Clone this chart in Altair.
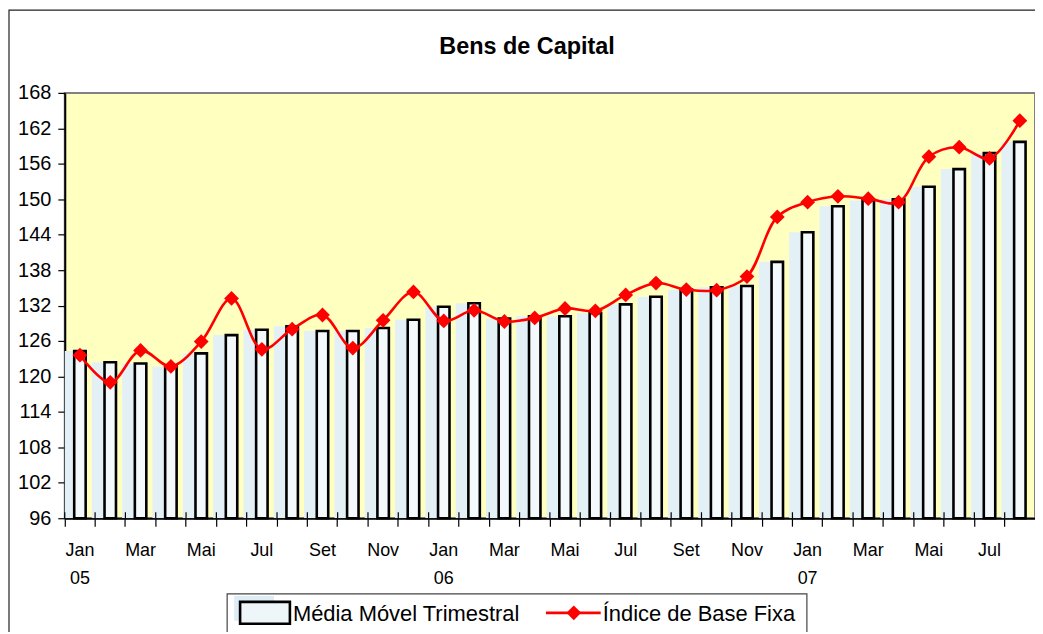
import altair as alt
import pandas as pd

month_names = ["Jan", "Fev", "Mar", "Abr", "Mai", "Jun", "Jul", "Ago", "Set", "Out", "Nov", "Dez"]
years = ["05", "06", "07"]
cats = [f"{m} {y}" for y in years for m in month_names][:32]
month_labels = [(m if i % 2 == 0 else "") for y in years for i, m in enumerate(month_names)][:32]
year_labels = [(y if i == 0 else "") for y in years for i in range(12)][:32]

media = [124.3, 122.4, 122.2, 121.7, 123.9, 127.0, 127.9, 128.5, 127.7, 127.7, 128.2, 129.6,
         131.8, 132.4, 129.8, 130.2, 130.2, 130.7, 132.2, 133.5, 134.7, 135.1, 135.3, 139.4,
         144.4, 148.8, 149.8, 150.0, 152.1, 155.1, 157.8, 159.7]
indice = [123.6, 119.0, 124.4, 121.7, 125.9, 133.2, 124.6, 128.0, 130.4, 124.8, 129.5, 134.3,
          129.4, 131.2, 129.3, 129.9, 131.5, 131.1, 133.8, 135.8, 134.7, 134.6, 136.9, 147.0,
          149.5, 150.5, 150.1, 149.5, 157.2, 158.8, 156.9, 163.3]
y_ticks = [96, 102, 108, 114, 120, 126, 132, 138, 144, 150, 156, 162, 168]

title_text = "Bens de Capital"
legend_bar = "Média Móvel Trimestral"
legend_line = "Índice de Base Fixa"

FONT = "Liberation Sans, Arial"
W, H = 974, 427
BAND = W / len(cats)

df = pd.DataFrame({"cat": cats, "media": media, "indice": indice,
                   "mes": month_labels, "ano": year_labels})
one = pd.DataFrame({"a": [0]})

xenc = alt.X("cat:N", sort=cats, title=None,
             scale=alt.Scale(paddingInner=0, paddingOuter=0),
             axis=alt.Axis(labels=False, bandPosition=0, tickSize=8, tickColor="#000",
                           tickWidth=1.2, domainColor="#000", domainWidth=2))
yscale = alt.Scale(domain=[96, 168], nice=False, zero=False)
yaxis = alt.Axis(values=y_ticks, grid=False, tickSize=7, tickColor="#000", tickWidth=1.2,
                 domainColor="#000", domainWidth=2, labelFontSize=20, labelFont=FONT,
                 labelColor="#000", labelPadding=7, title=None)

base = alt.Chart(df)

frame = alt.Chart(one).mark_rect(fill="white", fillOpacity=0, stroke="#222", strokeWidth=1.2).encode(
    x=alt.value(-56), x2=alt.value(1100), y=alt.value(-83), y2=alt.value(700))

shadow = base.mark_bar(size=13, xOffset=-12, color="#e3f1f7", clip=True).encode(
    x=xenc, y=alt.Y("media:Q", scale=yscale, axis=yaxis), y2=alt.datum(96))

bars = base.mark_bar(size=11.5, fill="#f4fafc", stroke="#000", strokeWidth=2.6).encode(
    x=xenc, y=alt.Y("media:Q", scale=yscale, axis=yaxis), y2=alt.datum(96))

inner_ticks = base.mark_rule(xOffset=-BAND / 2, color="#000", strokeWidth=1.2).encode(
    x=xenc, y=alt.value(H - 6), y2=alt.value(H))

line = base.mark_line(color="#ff0000", strokeWidth=2.6, interpolate="catmull-rom").encode(
    x=xenc, y=alt.Y("indice:Q", scale=yscale, axis=yaxis))

points = base.mark_point(shape="diamond", filled=True, size=220, color="#ff0000", opacity=1).encode(
    x=xenc, y=alt.Y("indice:Q", scale=yscale, axis=yaxis))

mlabels = base.transform_filter("datum.mes != ''").mark_text(
    font=FONT, fontSize=18, color="#000", baseline="middle").encode(
    x=xenc, y=alt.value(H + 33), text="mes:N")

ylabels = base.transform_filter("datum.ano != ''").mark_text(
    font=FONT, fontSize=18, color="#000", baseline="middle").encode(
    x=xenc, y=alt.value(H + 61), text="ano:N")

title = alt.Chart(one).mark_text(font=FONT, fontSize=23.5, fontWeight="bold", color="#000",
                                 baseline="middle", align="center").encode(
    x=alt.value(464), y=alt.value(-46), text=alt.value(title_text))

leg_box = alt.Chart(one).mark_rect(fill="white", stroke="#444", strokeWidth=1.2).encode(
    x=alt.value(163), x2=alt.value(745), y=alt.value(503), y2=alt.value(600))
leg_shadow = alt.Chart(one).mark_rect(fill="#dcedf5").encode(
    x=alt.value(170), x2=alt.value(210), y=alt.value(505), y2=alt.value(530))
leg_rect = alt.Chart(one).mark_rect(fill="#eef6fa", stroke="#000", strokeWidth=2.6).encode(
    x=alt.value(176), x2=alt.value(226), y=alt.value(511), y2=alt.value(533))
leg_t1 = alt.Chart(one).mark_text(font=FONT, fontSize=22, color="#000", align="left",
                                  baseline="middle").encode(
    x=alt.value(229), y=alt.value(523), text=alt.value(legend_bar))
leg_line = alt.Chart(one).mark_rule(color="#ff0000", strokeWidth=2.6).encode(
    x=alt.value(483), x2=alt.value(538), y=alt.value(522))
leg_pt = alt.Chart(one).mark_point(shape="diamond", filled=True, size=220, color="#ff0000",
                                   opacity=1).encode(x=alt.value(511), y=alt.value(522))
leg_t2 = alt.Chart(one).mark_text(font=FONT, fontSize=22, color="#000", align="left",
                                  baseline="middle").encode(
    x=alt.value(540), y=alt.value(523), text=alt.value(legend_line))

chart = alt.layer(
    frame, shadow, bars, inner_ticks, line, points, mlabels, ylabels, title,
    leg_box, leg_shadow, leg_rect, leg_t1, leg_line, leg_pt, leg_t2
).properties(
    width=W, height=H,
    padding={"left": 57, "top": 84, "right": 0, "bottom": 113},
    autosize=alt.AutoSizeParams(type="none"),
    background="white",
).configure_view(fill="#FFFFC0", stroke="#808080", strokeWidth=2)

chart.save("out.html", embed_options={"renderer": "svg", "actions": False})
